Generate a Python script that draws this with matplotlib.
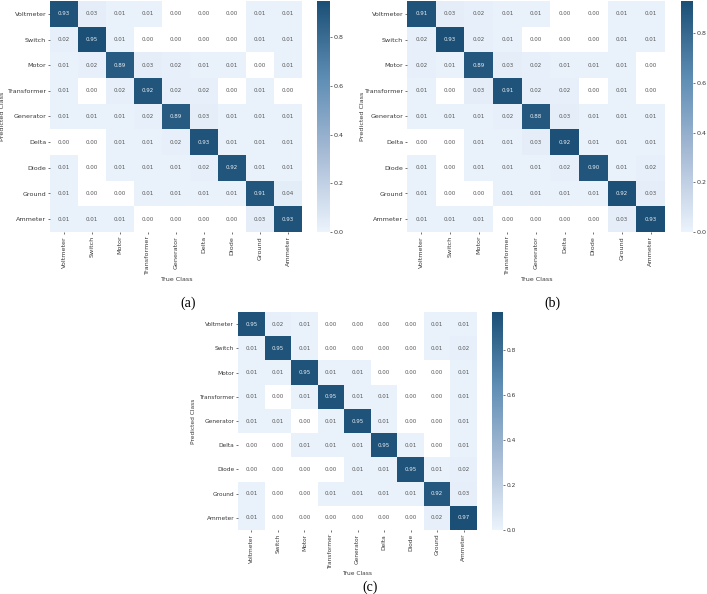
import numpy as np
import matplotlib
matplotlib.use("Agg")
import matplotlib.pyplot as plt
from matplotlib.colors import LinearSegmentedColormap

classes = ["Voltmeter", "Switch", "Motor", "Transformer", "Generator",
           "Delta", "Diode", "Ground", "Ammeter"]

cm_a = [
    [0.93, 0.03, 0.01, 0.01, 0.00, 0.00, 0.00, 0.01, 0.01],
    [0.02, 0.95, 0.01, 0.00, 0.00, 0.00, 0.00, 0.01, 0.01],
    [0.01, 0.02, 0.89, 0.03, 0.02, 0.01, 0.01, 0.00, 0.01],
    [0.01, 0.00, 0.02, 0.92, 0.02, 0.02, 0.00, 0.01, 0.00],
    [0.01, 0.01, 0.01, 0.02, 0.89, 0.03, 0.01, 0.01, 0.01],
    [0.00, 0.00, 0.01, 0.01, 0.02, 0.93, 0.01, 0.01, 0.01],
    [0.01, 0.00, 0.01, 0.01, 0.01, 0.02, 0.92, 0.01, 0.01],
    [0.01, 0.00, 0.00, 0.01, 0.01, 0.01, 0.01, 0.91, 0.04],
    [0.01, 0.01, 0.01, 0.00, 0.00, 0.00, 0.00, 0.03, 0.93],
]
cm_b = [
    [0.91, 0.03, 0.02, 0.01, 0.01, 0.00, 0.00, 0.01, 0.01],
    [0.02, 0.93, 0.02, 0.01, 0.00, 0.00, 0.00, 0.01, 0.01],
    [0.02, 0.01, 0.89, 0.03, 0.02, 0.01, 0.01, 0.01, 0.00],
    [0.01, 0.00, 0.03, 0.91, 0.02, 0.02, 0.00, 0.01, 0.00],
    [0.01, 0.01, 0.01, 0.02, 0.88, 0.03, 0.01, 0.01, 0.01],
    [0.00, 0.00, 0.01, 0.01, 0.03, 0.92, 0.01, 0.01, 0.01],
    [0.01, 0.00, 0.01, 0.01, 0.01, 0.02, 0.90, 0.01, 0.02],
    [0.01, 0.00, 0.00, 0.01, 0.01, 0.01, 0.01, 0.92, 0.03],
    [0.01, 0.01, 0.01, 0.00, 0.00, 0.00, 0.00, 0.03, 0.93],
]
cm_c = [
    [0.95, 0.02, 0.01, 0.00, 0.00, 0.00, 0.00, 0.01, 0.01],
    [0.01, 0.95, 0.01, 0.00, 0.00, 0.00, 0.00, 0.01, 0.02],
    [0.01, 0.01, 0.95, 0.01, 0.01, 0.00, 0.00, 0.00, 0.01],
    [0.01, 0.00, 0.01, 0.95, 0.01, 0.01, 0.00, 0.00, 0.01],
    [0.01, 0.01, 0.00, 0.01, 0.95, 0.01, 0.00, 0.00, 0.01],
    [0.00, 0.00, 0.01, 0.01, 0.01, 0.95, 0.01, 0.00, 0.01],
    [0.00, 0.00, 0.00, 0.00, 0.01, 0.01, 0.95, 0.01, 0.02],
    [0.01, 0.00, 0.00, 0.01, 0.01, 0.01, 0.01, 0.92, 0.03],
    [0.01, 0.00, 0.00, 0.00, 0.00, 0.00, 0.00, 0.02, 0.97],
]
captions = ["(a)", "(b)", "(c)"]

cmap = LinearSegmentedColormap.from_list(
    "cm", ["#ebf3fc", "#a8bcd6", "#5e8db4", "#1b4f75"])
cmap.set_bad("white")

W, H = 707, 594
fig = plt.figure(figsize=(W / 100, H / 100), dpi=100)
fig.patch.set_facecolor("white")

def fx(px):
    return px / W

def fy(py):
    return 1 - py / H

# (box l,t,r,b), (colorbar l,r), caption pos, ylabel x px, label font size
panels = [
    ((50, 1, 302, 232), (317, 330), (188, 303), 5, 4.6),
    ((407, 1, 665, 232), (681, 693), (552, 303), 365, 4.6),
    ((238, 312, 477, 530), (492, 503), (370, 587), 196, 4.2),
]
mats = [cm_a, cm_b, cm_c]
tick_color = "#3a3a3a"

for mat, cap, (box, cb, cpos, ylx, lab_fs) in zip(mats, captions, panels):
    data = np.array(mat)
    l, t, r, b = box
    ax = fig.add_axes([fx(l), fy(b), fx(r - l), (b - t) / H])
    masked = np.ma.masked_where(data == 0, data)
    vmax = data.max()
    mesh = ax.pcolormesh(masked, cmap=cmap, vmin=0, vmax=vmax)
    ax.set_xlim(0, 9)
    ax.set_ylim(9, 0)
    for s in ax.spines.values():
        s.set_visible(False)
    for i in range(9):
        for j in range(9):
            v = data[i, j]
            col = "#e8eef4" if v > 0.5 else "#555555"
            ax.text(j + 0.5, i + 0.5, f"{v:.2f}", ha="center", va="center",
                    fontsize=4.0, color=col)
    ax.set_xticks(np.arange(9) + 0.5)
    ax.set_yticks(np.arange(9) + 0.5)
    ax.set_xticklabels(classes, rotation=90, fontsize=lab_fs, color=tick_color)
    ax.set_yticklabels(classes, fontsize=lab_fs, color=tick_color)
    ax.tick_params(length=1.5, width=0.5, color=tick_color, pad=1.2)
    ax.set_xlabel("True Class", fontsize=lab_fs, color=tick_color, labelpad=1.5)
    ax.set_ylabel("Predicted Class", fontsize=lab_fs, color=tick_color)
    ax.yaxis.set_label_coords((ylx - l) / (r - l), 0.5)

    cax = fig.add_axes([fx(cb[0]), fy(b), fx(cb[1] - cb[0]), (b - t) / H])
    cbar = fig.colorbar(mesh, cax=cax)
    cbar.outline.set_visible(False)
    cbar.set_ticks([0.0, 0.2, 0.4, 0.6, 0.8])
    cbar.ax.tick_params(labelsize=lab_fs, length=1.5, width=0.5,
                        color=tick_color, labelcolor=tick_color, pad=1.2)

    fig.text(fx(cpos[0]), fy(cpos[1]), cap, ha="center", va="center",
             fontsize=10, family="Liberation Serif", color="black")

fig.savefig("out.png", dpi=100, facecolor="white")
